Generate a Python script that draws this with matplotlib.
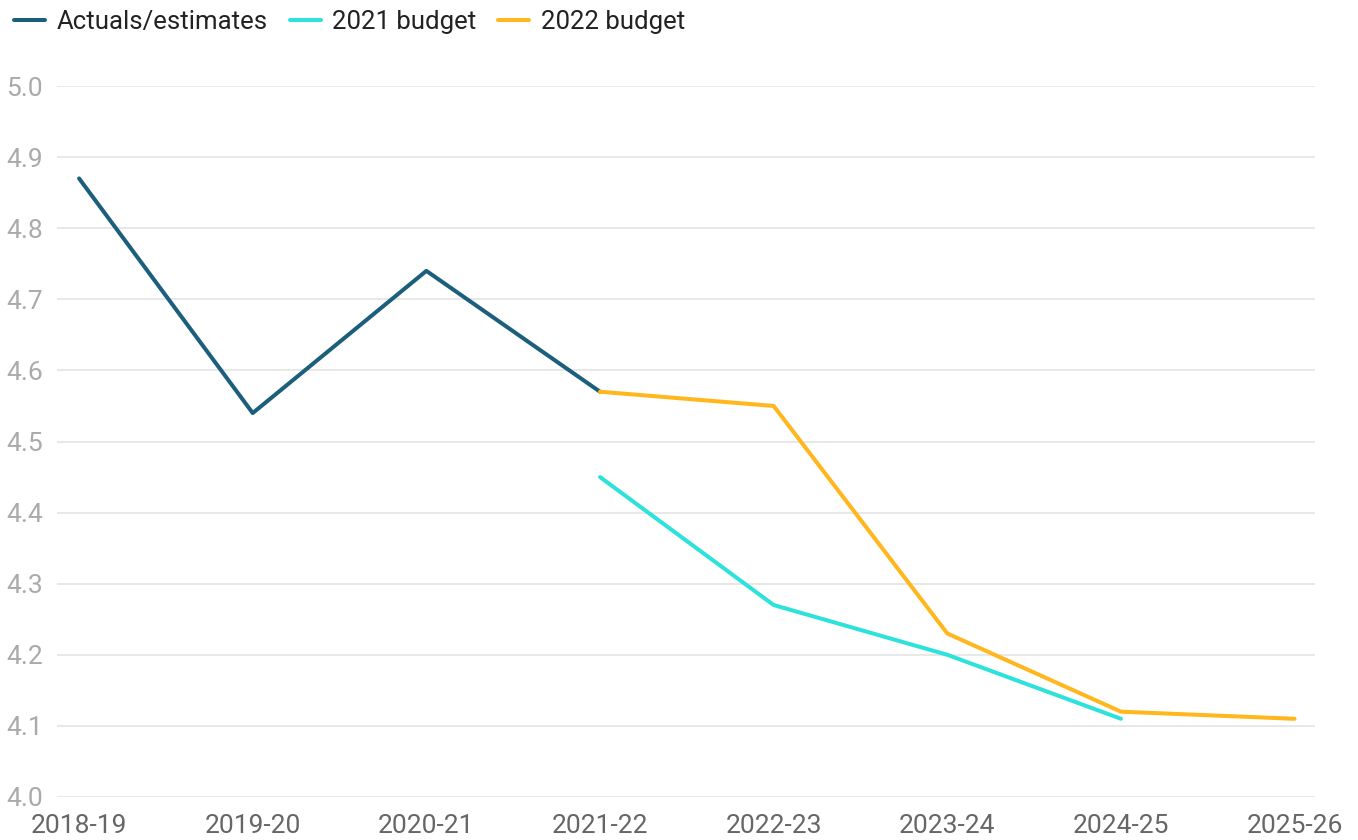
import matplotlib.pyplot as plt
import numpy as np

plt.rcParams['font.family'] = ['Roboto', 'DejaVu Sans']

# Data
years = ["2018-19", "2019-20", "2020-21", "2021-22", "2022-23", "2023-24", "2024-25", "2025-26"]
actuals = [4.87, 4.54, 4.74, 4.57, None, None, None, None]
budget_2021 = [None, None, None, 4.45, 4.27, 4.20, 4.11, None]
budget_2022 = [None, None, None, 4.57, 4.55, 4.23, 4.12, 4.11]

series = [
    ("Actuals/estimates", actuals, "#1b5f7c"),
    ("2021 budget", budget_2021, "#2ee2dc"),
    ("2022 budget", budget_2022, "#ffb71d"),
]

fig = plt.figure(figsize=(13.58, 8.4), dpi=100)
ax = fig.add_axes([0.042, 0.0512, 0.926, 0.8464])

x = np.arange(len(years))
for name, vals, color in series:
    y = np.array([np.nan if v is None else v for v in vals], dtype=float)
    ax.plot(x, y, color=color, linewidth=2.9, label=name, solid_capstyle="round")

ax.set_ylim(4.0, 5.0)
ax.set_xlim(-0.127, 7.115)
ax.set_yticks(np.arange(4.0, 5.01, 0.1))
ax.set_yticklabels([f"{v:.1f}" for v in np.arange(4.0, 5.01, 0.1)])
ax.set_xticks(x)
ax.set_xticklabels(years)

ax.grid(axis="y", color="#e6e6e6", linewidth=1.3)
ax.set_axisbelow(True)
for s in ax.spines.values():
    s.set_visible(False)
ax.tick_params(axis="y", length=0, pad=10, labelsize=19, labelcolor="#aaaaaa")
ax.tick_params(axis="x", length=0, pad=12, labelsize=19, labelcolor="#666666")

fig.legend(loc="upper left", bbox_to_anchor=(0.005, 0.997), ncol=3, frameon=False,
           fontsize=18.5, handlelength=1.2, handletextpad=0.45, columnspacing=0.85,
           labelcolor="#222222", borderaxespad=0.0, borderpad=0.3)

fig.savefig("out.png", dpi=100)
